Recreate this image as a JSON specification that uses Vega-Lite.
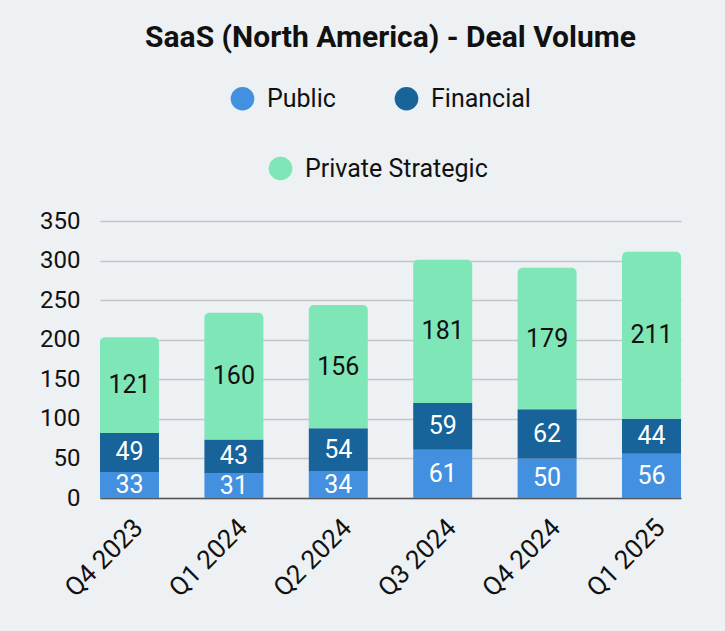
{
  "$schema": "https://vega.github.io/schema/vega-lite/v6.json",
  "width": 581,
  "height": 277,
  "autosize": "none",
  "padding": {"left": 100, "top": 221, "right": 44, "bottom": 133},
  "background": "#edf1f4",
  "config": {
    "font": "Roboto",
    "view": {"stroke": null},
    "axisY": {
      "title": null,
      "values": [0, 50, 100, 150, 200, 250, 300, 350],
      "labelOverlap": false,
      "labelFontSize": 24,
      "labelColor": "#111111",
      "labelPadding": 20,
      "ticks": false,
      "domain": false,
      "gridColor": "#c3c6c9",
      "gridWidth": 1.5
    }
  },
  "title": {
    "text": "SaaS (North America) - Deal Volume",
    "fontSize": 30,
    "fontWeight": "bold",
    "font": "Roboto",
    "color": "#111111",
    "anchor": "middle",
    "offset": 33
  },
  "data": {
    "values": [
      {"quarter": "Q4 2023", "series": "Public", "ord": 1, "value": 33},
      {"quarter": "Q4 2023", "series": "Financial", "ord": 2, "value": 49},
      {"quarter": "Q4 2023", "series": "Private Strategic", "ord": 3, "value": 121},
      {"quarter": "Q1 2024", "series": "Public", "ord": 1, "value": 31},
      {"quarter": "Q1 2024", "series": "Financial", "ord": 2, "value": 43},
      {"quarter": "Q1 2024", "series": "Private Strategic", "ord": 3, "value": 160},
      {"quarter": "Q2 2024", "series": "Public", "ord": 1, "value": 34},
      {"quarter": "Q2 2024", "series": "Financial", "ord": 2, "value": 54},
      {"quarter": "Q2 2024", "series": "Private Strategic", "ord": 3, "value": 156},
      {"quarter": "Q3 2024", "series": "Public", "ord": 1, "value": 61},
      {"quarter": "Q3 2024", "series": "Financial", "ord": 2, "value": 59},
      {"quarter": "Q3 2024", "series": "Private Strategic", "ord": 3, "value": 181},
      {"quarter": "Q4 2024", "series": "Public", "ord": 1, "value": 50},
      {"quarter": "Q4 2024", "series": "Financial", "ord": 2, "value": 62},
      {"quarter": "Q4 2024", "series": "Private Strategic", "ord": 3, "value": 179},
      {"quarter": "Q1 2025", "series": "Public", "ord": 1, "value": 56},
      {"quarter": "Q1 2025", "series": "Financial", "ord": 2, "value": 44},
      {"quarter": "Q1 2025", "series": "Private Strategic", "ord": 3, "value": 211}
    ]
  },
  "transform": [
    {"stack": "value", "groupby": ["quarter"], "sort": [{"field": "ord", "order": "ascending"}], "as": ["v0", "v1"]},
    {"calculate": "(datum.v0 + datum.v1) / 2", "as": "mid"}
  ],
  "encoding": {
    "x": {
      "field": "quarter",
      "type": "nominal",
      "sort": null,
      "scale": {"paddingInner": 0.435, "paddingOuter": 0},
      "axis": {
        "title": null,
        "labelAngle": -45,
        "labelFontSize": 26,
        "labelColor": "#111111",
        "domainColor": "#555555",
        "domainWidth": 1.5,
        "ticks": false,
        "labelPadding": 16
      }
    }
  },
  "layer": [
    {
      "transform": [{"filter": "datum.series !== 'Private Strategic'"}],
      "mark": {"type": "bar"},
      "encoding": {
        "y": {
          "field": "v0",
          "type": "quantitative",
          "scale": {"domain": [0, 350], "nice": false}
        },
        "y2": {"field": "v1"},
        "color": {
          "field": "series",
          "type": "nominal",
          "scale": {
            "domain": ["Public", "Financial"],
            "range": ["#4490e0", "#17639a"]
          },
          "legend": {
            "title": null,
            "orient": "none",
            "legendX": 130,
            "legendY": -135,
            "direction": "horizontal",
            "symbolType": "circle",
            "symbolSize": 560,
            "symbolStrokeWidth": 0,
            "symbolOpacity": 1,
            "labelFontSize": 25,
            "labelColor": "#111111",
            "labelOffset": 12,
            "labelLimit": 300,
            "columnPadding": 58,
            "padding": 0
          }
        }
      }
    },
    {
      "transform": [{"filter": "datum.series === 'Private Strategic'"}],
      "mark": {"type": "bar", "cornerRadiusTopLeft": 5, "cornerRadiusTopRight": 5},
      "encoding": {
        "y": {"field": "v0", "type": "quantitative"},
        "y2": {"field": "v1"},
        "fill": {
          "field": "series",
          "type": "nominal",
          "scale": {"domain": ["Private Strategic"], "range": ["#7fe6b8"]},
          "legend": {
            "title": null,
            "orient": "none",
            "legendX": 168,
            "legendY": -65,
            "direction": "horizontal",
            "symbolType": "circle",
            "symbolSize": 560,
            "symbolStrokeWidth": 0,
            "symbolOpacity": 1,
            "labelFontSize": 25,
            "labelColor": "#111111",
            "labelOffset": 12,
            "labelLimit": 300,
            "padding": 0
          }
        }
      }
    },
    {
      "mark": {"type": "text", "fontSize": 25, "baseline": "middle", "align": "center"},
      "encoding": {
        "y": {"field": "mid", "type": "quantitative"},
        "text": {"field": "value", "type": "quantitative"},
        "color": {
          "condition": {"test": "datum.series === 'Private Strategic'", "value": "#111111"},
          "value": "#ffffff"
        }
      }
    }
  ]
}
